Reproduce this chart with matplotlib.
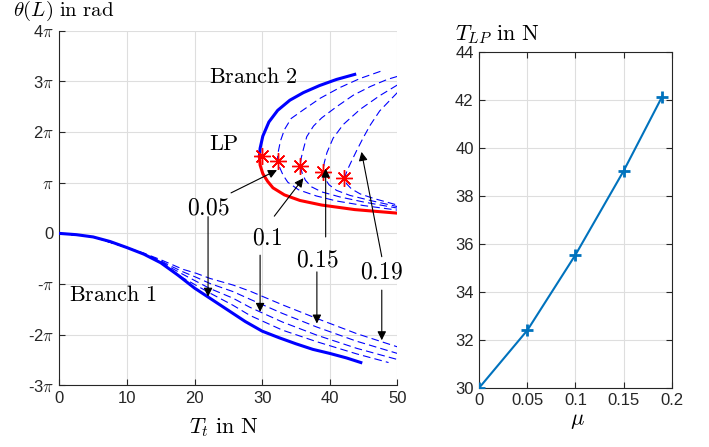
import matplotlib
matplotlib.use('Agg')
import matplotlib.pyplot as plt
import numpy as np

plt.rcParams['font.family'] = ['Liberation Sans', 'DejaVu Sans']
plt.rcParams['mathtext.fontset'] = 'cm'
plt.rcParams['lines.scale_dashes'] = False

# ---- data (theta values in units of pi) ----
# branch 1, mu = 0 (solid)
b1_T = [0, 2.5, 5, 7.5, 10, 12.5, 15, 17.5, 20, 22.5, 25, 27.5, 30, 32.5, 35, 37.5, 40, 42.5, 44.6]
b1_th = [0, -0.025, -0.07, -0.16, -0.28, -0.41, -0.58, -0.82, -1.08, -1.30, -1.52, -1.74, -1.93, -2.06, -2.18, -2.29, -2.37, -2.46, -2.55]

# branch 1, mu > 0 (dashed)
b1d_T = [0, 5, 10, 12.5, 15, 16.4, 18.3, 20.3, 22.3, 25.7, 28.2, 33, 38.1, 44, 50]
b1d_T05 = [0, 5, 10, 12.5, 15, 16.4, 18.3, 20.3, 22.3, 25.7, 28.2, 33, 38.1, 44, 48.7]
b1d_05 = [0, -0.07, -0.28, -0.40, -0.56, -0.70, -0.88, -1.03, -1.18, -1.42, -1.62, -1.91, -2.14, -2.38, -2.55]
b1d_10 = [0, -0.07, -0.28, -0.40, -0.55, -0.67, -0.81, -0.95, -1.09, -1.28, -1.46, -1.75, -2.01, -2.27, -2.49]
b1d_15 = [0, -0.07, -0.28, -0.40, -0.54, -0.64, -0.76, -0.87, -0.99, -1.15, -1.30, -1.58, -1.85, -2.13, -2.37]
b1d_19 = [0, -0.07, -0.28, -0.39, -0.52, -0.60, -0.71, -0.79, -0.89, -1.02, -1.14, -1.41, -1.68, -1.98, -2.24]

# branch 2, mu = 0
b2u_T = [29.6, 29.7, 30.1, 31.0, 32.3, 34.1, 36.1, 38.5, 41.0, 43.7]
b2u_th = [1.52, 1.68, 1.92, 2.20, 2.43, 2.63, 2.78, 2.92, 3.04, 3.14]
b2l_T = [29.6, 29.7, 30.1, 30.8, 31.6, 33.3, 35.6, 38.8, 43.7, 50]
b2l_th = [1.52, 1.35, 1.18, 1.03, 0.90, 0.76, 0.65, 0.56, 0.47, 0.40]

# branch 2, mu > 0 (dashed): upper and lower parts
b2_05_T = [47.5, 44.5, 41.5, 38.6, 36.1, 34.3, 33.3, 32.7, 32.4, 32.2, 32.6, 33.1, 33.8, 35.4, 38.0, 41.0, 45.0, 50]
b2_05_th = [3.20, 3.06, 2.88, 2.67, 2.44, 2.27, 2.05, 1.82, 1.62, 1.43, 1.30, 1.15, 1.01, 0.86, 0.74, 0.64, 0.55, 0.46]
b2_10_T = [50, 48.5, 46.0, 43.5, 41.0, 38.8, 37.6, 36.6, 36.1, 35.8, 35.6, 35.9, 36.4, 37.3, 38.8, 41.5, 45.0, 50]
b2_10_th = [3.10, 3.04, 2.90, 2.73, 2.50, 2.28, 2.12, 1.91, 1.66, 1.50, 1.35, 1.20, 1.05, 0.92, 0.82, 0.72, 0.62, 0.50]
b2_15_T = [50, 47.4, 44.5, 42.0, 40.5, 39.6, 39.2, 39.0, 39.3, 39.9, 41.0, 43.0, 46.0, 50]
b2_15_th = [2.93, 2.72, 2.45, 2.15, 1.88, 1.60, 1.40, 1.22, 1.08, 0.96, 0.85, 0.75, 0.65, 0.53]
b2_19_T = [50, 47.4, 46.0, 45.0, 44.0, 43.2, 42.6, 42.2, 42.5, 43.2, 44.5, 46.5, 50]
b2_19_th = [2.78, 2.42, 2.14, 1.90, 1.64, 1.42, 1.25, 1.10, 0.98, 0.88, 0.78, 0.69, 0.56]

# limit points
mu = [0, 0.05, 0.1, 0.15, 0.19]
T_LP = [30.0, 32.4, 35.55, 39.05, 42.15]
th_LP = [1.52, 1.43, 1.34, 1.22, 1.10]

fig = plt.figure(figsize=(7.09, 4.47), dpi=100)
ax1 = fig.add_axes([0.0837, 0.138, 0.4767, 0.793])
ax2 = fig.add_axes([0.676, 0.1327, 0.2714, 0.750])

dcol = '#262626'
gcol = '#dedede'

# left chart
ax1.plot(b1_T, b1_th, color='b', lw=2.2, zorder=4)
for th, TT in [(b1d_05, b1d_T05), (b1d_10, b1d_T), (b1d_15, b1d_T), (b1d_19, b1d_T)]:
    ax1.plot(TT, th, color='b', lw=0.8, dashes=(5.5, 3), zorder=3)
for TT, th in [(b2_05_T, b2_05_th), (b2_10_T, b2_10_th), (b2_15_T, b2_15_th), (b2_19_T, b2_19_th)]:
    ax1.plot(TT, th, color='b', lw=0.8, dashes=(5.5, 3), zorder=3)
ax1.plot(b2u_T, b2u_th, color='b', lw=2.2, zorder=4)
ax1.plot(b2l_T, b2l_th, color='r', lw=2.2, zorder=4)
ax1.plot(T_LP, th_LP, ls='none', marker=(8, 2, 0), ms=12, mew=1.0, color='r', zorder=5)

ax1.set_xlim(0, 50)
ax1.set_ylim(-3, 4)
ax1.set_xticks([0, 10, 20, 30, 40, 50])
ax1.set_yticks(range(-3, 5))
ax1.set_yticklabels(['-3$\\pi$', '-2$\\pi$', '-$\\pi$', '0', '$\\pi$', '2$\\pi$', '3$\\pi$', '4$\\pi$'])
ax1.spines['top'].set_visible(False)
ax1.spines['right'].set_visible(False)
ax1.grid(True, color=gcol, lw=0.8)
ax1.set_axisbelow(True)

tfont = dict(fontsize=16, color='k')
ax1.text(22.1, 3.08, r'$\mathrm{Branch\ 2}$', ha='left', va='center', **tfont)
ax1.text(22.1, 1.75, r'$\mathrm{LP}$', ha='left', va='center', **tfont)
ax1.text(1.4, -1.22, r'$\mathrm{Branch\ 1}$', ha='left', va='center', **tfont)

nfont = dict(fontsize=17, color='k', ha='center', va='center')
ax1.text(22.0, 0.50, r'$0.05$', **nfont)
ax1.text(30.7, -0.10, r'$0.1$', **nfont)
ax1.text(38.1, -0.53, r'$0.15$', **nfont)
ax1.text(47.6, -0.78, r'$0.19$', **nfont)

arr = dict(arrowstyle='-|>', color='k', lw=0.8, mutation_scale=13, shrinkA=0, shrinkB=0)
for tail, tip in [((25.4, 0.80), (32.2, 1.25)), ((22.0, 0.33), (22.0, -1.25)),
                  ((31.8, 0.34), (36.1, 1.09)), ((29.7, -0.43), (29.7, -1.55)),
                  ((39.4, -0.07), (39.4, 1.28)), ((38.1, -0.76), (38.1, -1.78)),
                  ((47.7, -0.46), (44.7, 1.61)), ((47.7, -1.12), (47.7, -2.11))]:
    ax1.annotate('', xy=tip, xytext=tail, arrowprops=arr, zorder=6)

ax1.text(-0.137, 1.055, r'$\theta(L)\ \mathrm{in\ rad}$', transform=ax1.transAxes,
         ha='left', va='center', fontsize=15)
ax1.text(0.487, -0.12, r'$T_t\ \mathrm{in\ N}$', transform=ax1.transAxes,
         ha='center', va='center', fontsize=16)

# right chart
ax2.plot(mu, T_LP, color='#0072BD', lw=1.5, marker='+', ms=8, mew=2, zorder=4)
ax2.set_xlim(0, 0.2)
ax2.set_ylim(30, 44)
ax2.set_xticks([0, 0.05, 0.1, 0.15, 0.2])
ax2.set_xticklabels(['0', '0.05', '0.1', '0.15', '0.2'])
ax2.set_yticks(range(30, 45, 2))
ax2.grid(True, color=gcol, lw=0.8)
ax2.set_axisbelow(True)
ax2.tick_params(top=True, right=True)
ax2.text(-0.126, 1.052, r'$T_{LP}\ \mathrm{in\ N}$', transform=ax2.transAxes,
         ha='left', va='center', fontsize=16)
ax2.text(0.508, -0.099, r'$\mu$', transform=ax2.transAxes,
         ha='center', va='center', fontsize=16)

for ax in (ax1, ax2):
    for s in ax.spines.values():
        s.set_color(dcol)
        s.set_linewidth(0.8)
    ax.tick_params(direction='in', length=4, width=0.8, colors=dcol, labelsize=12, pad=4)

fig.savefig('out.png', dpi=100)
